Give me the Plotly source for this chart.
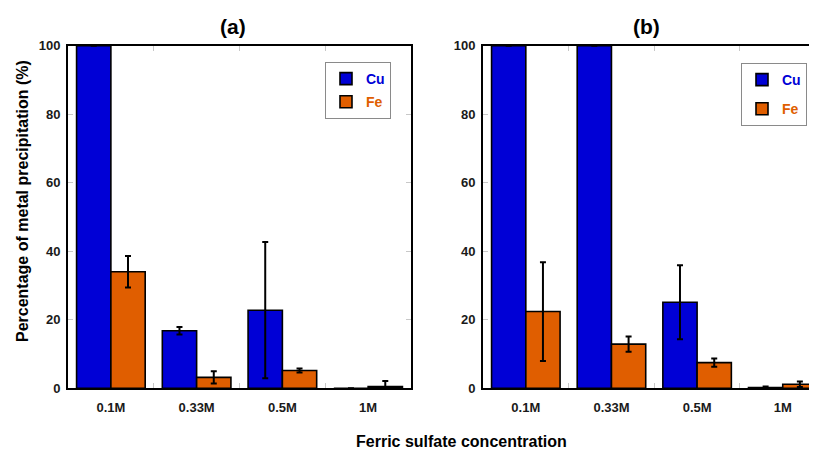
import plotly.graph_objects as go

categories = ["0.1M", "0.33M", "0.5M", "1M"]

# Panel (a)
cu_a = [100, 16.8, 22.8, 0]
cu_a_err = [0, 1.1, 19.9, 0]
fe_a = [34.0, 3.2, 5.2, 0.5]
fe_a_err = [4.6, 1.8, 0.6, 1.6]

# Panel (b)
cu_b = [100, 100, 25.1, 0.2]
cu_b_err = [0, 0, 10.8, 0.3]
fe_b = [22.4, 12.9, 7.5, 1.2]
fe_b_err = [14.4, 2.2, 1.2, 0.8]

CU_COLOR = "#0000D6"
FE_COLOR = "#E05E00"
FONT = "Liberation Sans, Arial, sans-serif"

fig = go.Figure()

def add_bars(vals, errs, color, name, label_color, xa, ya, legend, group):
    fig.add_trace(go.Bar(
        x=categories, y=vals,
        name=f"<b><span style='color:{label_color}'>{name}</span></b>",
        marker=dict(color=color, line=dict(color="black", width=1.6)),
        error_y=dict(type="data", array=errs, color="black", thickness=2, width=3),
        xaxis=xa, yaxis=ya, legend=legend, legendgroup=group,
    ))

add_bars(cu_a, cu_a_err, CU_COLOR, "Cu", CU_COLOR, "x", "y", "legend", "cua")
add_bars(fe_a, fe_a_err, FE_COLOR, "Fe", FE_COLOR, "x", "y", "legend", "fea")
add_bars(cu_b, cu_b_err, CU_COLOR, "Cu", CU_COLOR, "x2", "y2", "legend2", "cub")
add_bars(fe_b, fe_b_err, FE_COLOR, "Fe", FE_COLOR, "x2", "y2", "legend2", "feb")

# page body has an 8px margin, so the figure is drawn 8px in from the corner
OFF = 8
W, H = 817 - OFF, 449 - OFF
def px(x):
    return (x - OFF) / W
def py(y):
    return 1 - (y - OFF) / H

tickfont = dict(family=FONT, size=13, color="#1a1a1a", weight="bold")
common_x = dict(
    type="category", showline=True, linecolor="black", linewidth=2,
    ticks="inside", tickson="boundaries", ticklen=5, tickcolor="#c8c8c8",
    tickfont=tickfont, showgrid=False, zeroline=False, mirror="ticks",
    ticklabelstandoff=6, automargin=False,
)
common_y = dict(
    range=[0, 100], tickvals=[0, 20, 40, 60, 80, 100], showline=True,
    linecolor="black", linewidth=2, ticks="inside", ticklen=5,
    tickcolor="#c8c8c8", tickfont=tickfont, showgrid=False, zeroline=False,
    ticklabelstandoff=3, automargin=False,
)

fig.update_layout(
    width=W, height=H,
    margin=dict(l=0, r=0, t=0, b=0, autoexpand=False),
    paper_bgcolor="white", plot_bgcolor="white",
    barmode="group", bargap=0.2, bargroupgap=0,
    font=dict(family=FONT),
    xaxis=dict(domain=[px(68), px(411)], range=[-0.5, 3.5], anchor="y", **common_x),
    yaxis=dict(domain=[py(388.3), py(45.7)], anchor="x", mirror="ticks", **common_y),
    xaxis2=dict(domain=[px(483), 1.0], range=[-0.5, 3.4], anchor="y2", **common_x),
    yaxis2=dict(domain=[py(388.3), py(45.7)], anchor="x2", mirror=False, **common_y),
    legend=dict(
        x=px(325), y=py(62), xanchor="left", yanchor="top",
        bordercolor="#8a8a8a", borderwidth=1, bgcolor="white",
        font=dict(family=FONT, size=14), traceorder="grouped",
        tracegroupgap=2, itemclick=False,
    ),
    legend2=dict(
        x=px(741), y=py(63), xanchor="left", yanchor="top",
        bordercolor="#8a8a8a", borderwidth=1, bgcolor="white",
        font=dict(family=FONT, size=14), traceorder="grouped",
        tracegroupgap=8, itemclick=False,
    ),
    showlegend=True,
    annotations=[
        dict(text="<b>(a)</b>", x=px(233), y=py(27), xref="paper", yref="paper",
             xanchor="center", yanchor="middle",
             showarrow=False, font=dict(family=FONT, size=21, color="black")),
        dict(text="<b>(b)</b>", x=px(646), y=py(27), xref="paper", yref="paper",
             xanchor="center", yanchor="middle",
             showarrow=False, font=dict(family=FONT, size=21, color="black")),
        dict(text="<b>Percentage of metal precipitation (%)</b>", x=px(22), y=py(201),
             xref="paper", yref="paper", showarrow=False, textangle=-90,
             xanchor="center", yanchor="middle",
             font=dict(family=FONT, size=16, color="black")),
        dict(text="<b>Ferric sulfate concentration</b>", x=px(461), y=py(441),
             xref="paper", yref="paper", showarrow=False,
             xanchor="center", yanchor="middle",
             font=dict(family=FONT, size=16, color="black")),
    ],
)

fig.write_html("out.html")
